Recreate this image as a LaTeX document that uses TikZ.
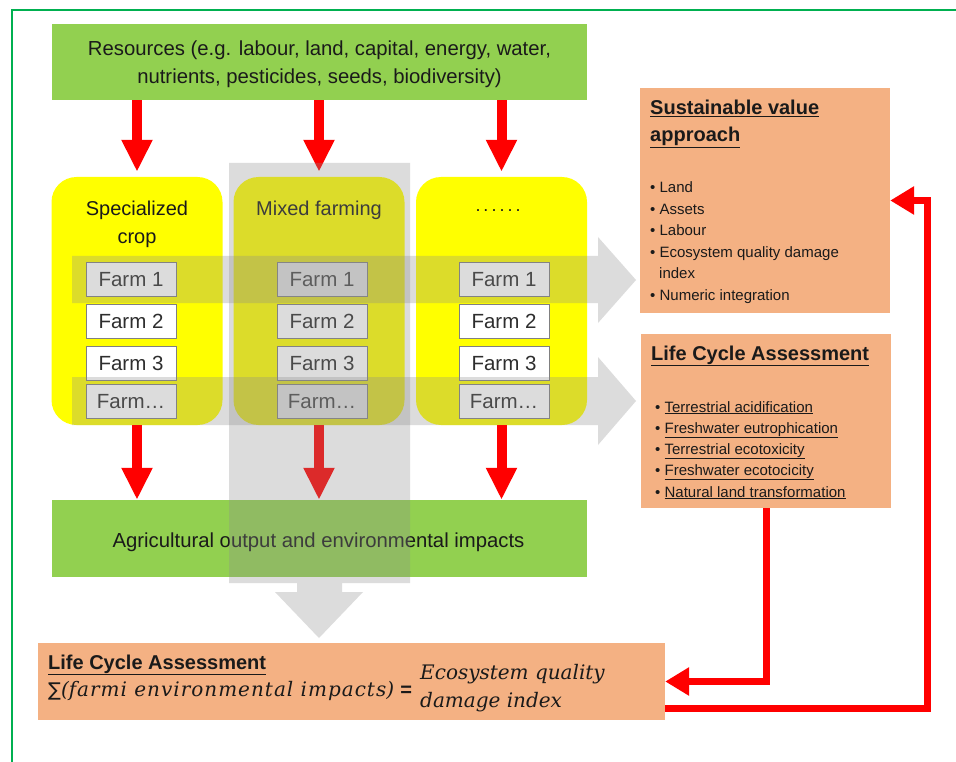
\documentclass[tikz,border=0pt]{standalone}
\usepackage[no-math]{fontspec}
\setmainfont{Liberation Sans}
\newfontfamily\formfont{DejaVu Serif}
\newfontfamily\sumfont{DejaVu Sans}
\usetikzlibrary{arrows.meta,calc}
\definecolor{frameg}{HTML}{00B050}
\definecolor{greenbox}{HTML}{92D050}
\definecolor{yel}{HTML}{FFFF00}
\definecolor{orangebox}{HTML}{F4B183}
\definecolor{bandc}{RGB}{140,140,140}
\definecolor{txt}{HTML}{1A1A1A}
\definecolor{farmtxt}{HTML}{2E2E2E}
\definecolor{farmedge}{HTML}{808080}
\tikzset{
  gbox/.style={fill=greenbox, draw=none, inner sep=0pt, text=txt, align=center,
    font=\fontsize{20.3}{28}\selectfont},
  ybox/.style={fill=yel, draw=none, rounded corners=25pt, minimum width=171, minimum height=248},
  ytitle/.style={inner sep=0pt, align=center, text=txt, font=\fontsize{20}{28}\selectfont},
  farmbox/.style={fill=white, draw=farmedge, line width=0.8pt, minimum width=90, minimum height=34,
    inner sep=0pt, text=farmtxt, font=\fontsize{20.5}{24}\selectfont},
  redarr/.style={draw=red, line width=10pt, -{Triangle[length=32pt,width=29pt]}},
  fbarr/.style={draw=red, line width=7pt, line join=miter, -{Triangle[length=24pt,width=27pt]}},
  band/.style={fill=bandc, fill opacity=0.3},
  obox/.style={fill=orangebox, draw=none, inner sep=0pt},
  otitle/.style={anchor=west, inner sep=0pt, text=txt, font=\bfseries\fontsize{20}{26}\selectfont,
    text height=15pt, text depth=5pt},
  oitem/.style={anchor=west, inner sep=0pt, text=txt, font=\fontsize{15}{20}\selectfont,
    text height=11pt, text depth=3pt},
  formula/.style={anchor=west, inner sep=0pt, text=txt, font=\formfont\itshape\fontsize{20}{28}\selectfont},
}
\begin{document}
\begin{tikzpicture}[x=1pt,y=-1pt]
\useasboundingbox (0,0) rectangle (956,762);
\fill[white] (0,0) rectangle (956,762);
\draw[frameg, line width=2pt] (12,764) -- (12,10) -- (958,10);

% resources
\node[gbox, minimum width=535, minimum height=76] (res) at (319.5,62) {};
\node[gbox] (rest) at (319.5,64)
  {Resources (e.g. labour, land, capital, energy, water,\\nutrients, pesticides, seeds, biodiversity)};

% columns
\node[ybox] (c1) at (137,301) {};
\node[ybox] (c2) at (319,301) {};
\node[ybox] (c3) at (501.5,301) {};

\draw[redarr, shorten >=5pt] (res.south -| c1) -- (c1.north);
\draw[redarr, shorten >=5pt] (res.south -| c2) -- (c2.north);
\draw[redarr, shorten >=5pt] (res.south -| c3) -- (c3.north);

\node[ytitle] (t1) at (137,224) {Specialized\\crop};
\node[ytitle] (t2) at (319,210) {Mixed farming};
\node[ytitle, font=\fontsize{18}{20}\selectfont] (t3) at (498,211) {.\,.\,.\,.\,.\,.};

\foreach \c/\x in {1/131,2/322,3/504}{
  \node[farmbox] (f\c a) at (\x,279.5) {Farm 1};
  \node[farmbox] (f\c b) at (\x,321.5) {Farm 2};
  \node[farmbox] (f\c c) at (\x,363) {Farm 3};
  \node[farmbox] (f\c d) at (\x,401.5) {Farm\textellipsis};
}

% output
\node[gbox, minimum width=535, minimum height=77] (out) at (319.5,538.5) {};
\node[gbox] (outt) at (318.5,542) {Agricultural output and environmental impacts};
\draw[redarr] (c1.south) -- (out.north -| c1);
\draw[redarr] (c2.south) -- (out.north -| c2);
\draw[redarr] (c3.south) -- (out.north -| c3);

% translucent grey arrows
\fill[band] (72,256) -- (598,256) -- (598,237) -- (636,280) -- (598,323) -- (598,303) -- (72,303) -- cycle;
\fill[band] (72,377) -- (598,377) -- (598,357) -- (636,401) -- (598,445) -- (598,425) -- (72,425) -- cycle;
\fill[band] (229,163) -- (410,163) -- (410,583) -- (342,583) -- (342,592) -- (363,592) -- (319,638)
  -- (275,592) -- (297,592) -- (297,583) -- (229,583) -- cycle;

% sustainable value box
\node[obox, minimum width=250, minimum height=225] (sv) at (765,200.5) {};
\node[otitle] (sv1) at (650,110) {\underline{Sustainable value}};
\node[otitle] (sv2) at (650,137) {\underline{approach}};
\foreach \t/\y [count=\i] in {Land/189, Assets/211, Labour/232, Ecosystem quality damage/254, Numeric integration/296}{
  \node[oitem] (svi\i) at (650,\y) {\textbullet\ \t};
}
\node[oitem] (svx) at (659,275) {index};

% LCA box
\node[obox, minimum width=250, minimum height=174] (lca) at (766,421) {};
\node[otitle] (lt) at (651,355) {\underline{Life Cycle Assessment}};
\foreach \t/\y [count=\i] in {Terrestrial acidification/408, Freshwater eutrophication/429,
  Terrestrial ecotoxicity/450, Freshwater ecotocicity/471, Natural land transformation/493}{
  \node[oitem] (li\i) at (655,\y) {\textbullet\ \underline{\t}};
}

% bottom box
\node[obox, minimum width=627, minimum height=77] (bot) at (351.5,681.5) {};
\node[otitle] (bt) at (48,664) {\underline{Life Cycle Assessment}};
\node[formula] (bf) at (48,691)
  {{\sumfont\upshape\fontsize{19}{20}\selectfont ∑}({\addfontfeature{LetterSpace=5}farmi environmental impacts}) {\normalfont\bfseries\fontsize{20}{20}\selectfont =}};
\node[formula, align=left] (bq) at (420,688)
  {Ecosystem quality\\damage index};

% feedback arrows
\draw[fbarr] (lca.south) |- (bot.east);
\coordinate (rc) at (927,200.5);
\draw[fbarr, -] ([yshift=12pt]bot.south east) -| (rc);
\draw[fbarr, shorten <=-3.5pt] (rc) -- (sv.east);
\end{tikzpicture}
\end{document}
